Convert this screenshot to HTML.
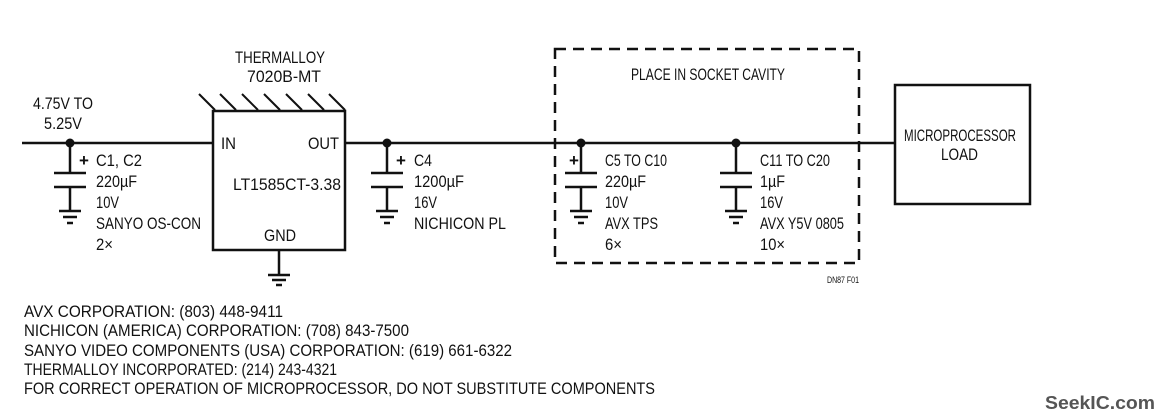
<!DOCTYPE html>
<html><head><meta charset="utf-8"><style>body{margin:0;background:#fff}svg{display:block}</style></head><body>
<svg width="1162" height="418" viewBox="0 0 1162 418" xmlns="http://www.w3.org/2000/svg" font-family="Liberation Sans, sans-serif" fill="#111">
<g stroke="#111" stroke-width="2.5" fill="none">
<line x1="22" y1="143" x2="213" y2="143"/>
<line x1="345" y1="143" x2="895" y2="143"/>
<rect x="213" y="111" width="132" height="139"/>
<line x1="279" y1="250" x2="279" y2="275"/>
<line x1="268" y1="275" x2="290" y2="275"/><line x1="272" y1="280" x2="286" y2="280"/><line x1="276" y1="285" x2="282" y2="285"/>
<rect x="895" y="85" width="135" height="119"/>
<rect x="555" y="49" width="304" height="214" stroke-dasharray="11,7"/>
<g stroke-width="2">
<line x1="199" y1="94" x2="215" y2="110"/><line x1="220" y1="94" x2="236" y2="110"/><line x1="242" y1="94" x2="258" y2="110"/><line x1="264" y1="94" x2="280" y2="110"/><line x1="286" y1="94" x2="302" y2="110"/><line x1="308" y1="94" x2="324" y2="110"/><line x1="329" y1="94" x2="345" y2="110"/>
</g>
</g>
<g stroke="#111" stroke-width="2.5" fill="none">
<g id="c1"><line x1="70" y1="143" x2="70" y2="173"/><line x1="54" y1="173" x2="86" y2="173"/><line x1="54" y1="187" x2="86" y2="187"/><line x1="70" y1="187" x2="70" y2="211"/><line x1="59" y1="211" x2="81" y2="211"/><line x1="63" y1="217" x2="77" y2="217"/><line x1="67" y1="223" x2="73" y2="223"/></g>
<use href="#c1" x="317"/><use href="#c1" x="511"/><use href="#c1" x="666"/>
</g>
<g fill="#111"><circle cx="70" cy="143" r="4.5"/><circle cx="387" cy="143" r="4.5"/><circle cx="581" cy="143" r="4.5"/><circle cx="736" cy="143" r="4.5"/></g>
<g font-size="17" font-weight="bold"><text x="79" y="166">+</text><text x="396" y="166">+</text><text x="569" y="166">+</text></g>
<g font-size="17">
<text x="235" y="63" textLength="90" lengthAdjust="spacingAndGlyphs">THERMALLOY</text>
<text x="247" y="82" textLength="74" lengthAdjust="spacingAndGlyphs">7020B-MT</text>
<text x="33" y="109" textLength="60" lengthAdjust="spacingAndGlyphs">4.75V TO</text>
<text x="44" y="129" textLength="38" lengthAdjust="spacingAndGlyphs">5.25V</text>
<text x="221" y="149" textLength="15" lengthAdjust="spacingAndGlyphs">IN</text><text x="308" y="149" textLength="31" lengthAdjust="spacingAndGlyphs">OUT</text>
<text x="233" y="190" textLength="108" lengthAdjust="spacingAndGlyphs">LT1585CT-3.38</text>
<text x="264" y="241" textLength="32" lengthAdjust="spacingAndGlyphs">GND</text>
<text x="96" y="166" textLength="46" lengthAdjust="spacingAndGlyphs">C1, C2</text><text x="96" y="187" textLength="41" lengthAdjust="spacingAndGlyphs">220µF</text><text x="96" y="208" textLength="23" lengthAdjust="spacingAndGlyphs">10V</text><text x="96" y="229" textLength="105" lengthAdjust="spacingAndGlyphs">SANYO OS-CON</text><text x="96" y="250" textLength="17" lengthAdjust="spacingAndGlyphs">2×</text>
<text x="414" y="166" textLength="18" lengthAdjust="spacingAndGlyphs">C4</text><text x="414" y="187" textLength="50" lengthAdjust="spacingAndGlyphs">1200µF</text><text x="414" y="208" textLength="23" lengthAdjust="spacingAndGlyphs">16V</text><text x="414" y="229" textLength="92" lengthAdjust="spacingAndGlyphs">NICHICON PL</text>
<text x="605" y="166" textLength="62" lengthAdjust="spacingAndGlyphs">C5 TO C10</text><text x="605" y="187" textLength="41" lengthAdjust="spacingAndGlyphs">220µF</text><text x="605" y="208" textLength="23" lengthAdjust="spacingAndGlyphs">10V</text><text x="605" y="229" textLength="53" lengthAdjust="spacingAndGlyphs">AVX TPS</text><text x="605" y="250" textLength="17" lengthAdjust="spacingAndGlyphs">6×</text>
<text x="760" y="166" textLength="70" lengthAdjust="spacingAndGlyphs">C11 TO C20</text><text x="760" y="187" textLength="25" lengthAdjust="spacingAndGlyphs">1µF</text><text x="760" y="208" textLength="23" lengthAdjust="spacingAndGlyphs">16V</text><text x="760" y="229" textLength="84" lengthAdjust="spacingAndGlyphs">AVX Y5V 0805</text><text x="760" y="250" textLength="25" lengthAdjust="spacingAndGlyphs">10×</text>
<text x="631" y="80" textLength="154" lengthAdjust="spacingAndGlyphs">PLACE IN SOCKET CAVITY</text>
<text x="904" y="141" textLength="112" lengthAdjust="spacingAndGlyphs">MICROPROCESSOR</text>
<text x="941" y="160" textLength="37" lengthAdjust="spacingAndGlyphs">LOAD</text>
</g>
<text x="827" y="283" font-size="9" textLength="32" lengthAdjust="spacingAndGlyphs">DN87 F01</text>
<g font-size="16.5">
<text x="24" y="317" textLength="259" lengthAdjust="spacingAndGlyphs">AVX CORPORATION: (803) 448-9411</text>
<text x="24" y="336" textLength="385" lengthAdjust="spacingAndGlyphs">NICHICON (AMERICA) CORPORATION: (708) 843-7500</text>
<text x="24" y="356" textLength="488" lengthAdjust="spacingAndGlyphs">SANYO VIDEO COMPONENTS (USA) CORPORATION: (619) 661-6322</text>
<text x="24" y="375" textLength="313" lengthAdjust="spacingAndGlyphs">THERMALLOY INCORPORATED: (214) 243-4321</text>
<text x="24" y="394" textLength="631" lengthAdjust="spacingAndGlyphs">FOR CORRECT OPERATION OF MICROPROCESSOR, DO NOT SUBSTITUTE COMPONENTS</text>
</g>
<text x="1045" y="409" font-size="18" font-weight="bold" fill="#555" textLength="110" lengthAdjust="spacingAndGlyphs">SeekIC.com</text>
</svg>
</body></html>
